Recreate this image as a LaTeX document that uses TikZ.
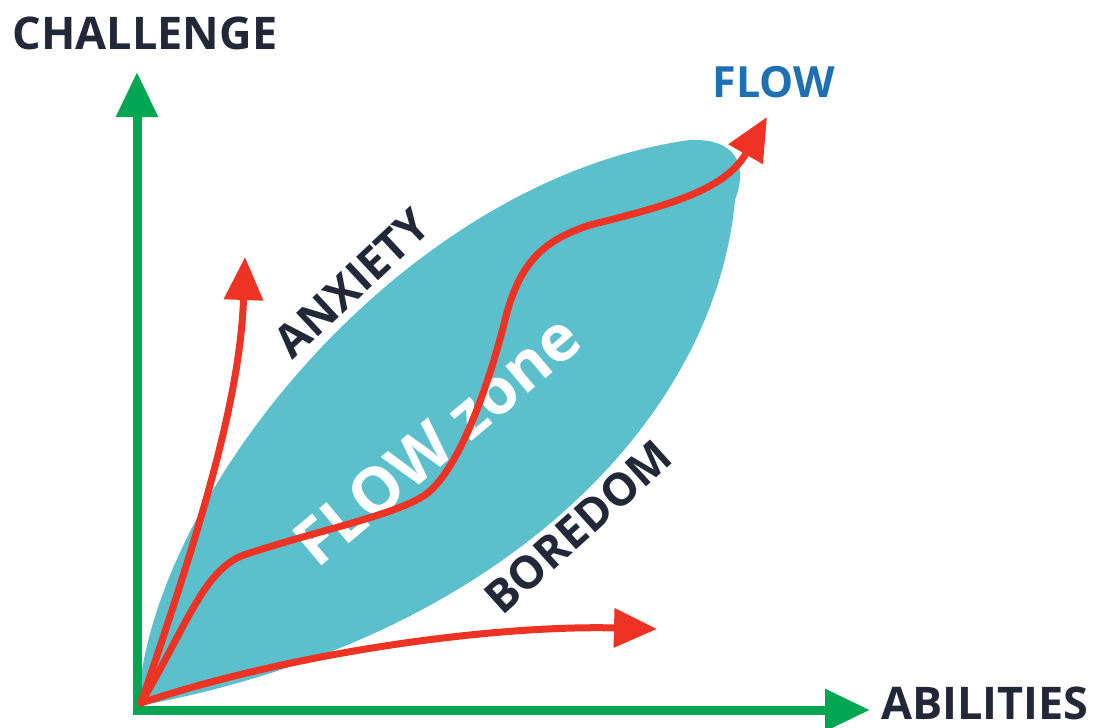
\documentclass[tikz,border=0pt]{standalone}
\usepackage{fontspec}
\setmainfont{Open Sans}
\usetikzlibrary{arrows.meta}
\definecolor{axisgreen}{RGB}{0,166,81}
\definecolor{zoneteal}{RGB}{91,191,204}
\definecolor{curvered}{RGB}{238,50,36}
\definecolor{labeldark}{RGB}{35,40,56}
\definecolor{flowblue}{RGB}{31,111,181}
\begin{document}
\begin{tikzpicture}[x=1pt,y=1pt,
  axis/.style={draw=axisgreen,line width=9pt,
    {Triangle[length=45pt,width=40pt]}-{Triangle[length=45pt,width=40pt]}},
  curve/.style={draw=curvered,line width=7pt,line cap=round,
    -{Triangle[length=43pt,width=38pt]}},
  lab/.style={font=\bfseries\fontsize{45}{50}\selectfont,text=labeldark,inner sep=0pt},
  zonelab/.style={font=\bfseries\fontsize{64}{70}\selectfont,text=white,inner sep=0pt}]
\useasboundingbox (0,0) rectangle (1093,-728);
% key points
\coordinate (O) at (141,-703);
\coordinate (ytip) at (137,-72);
\coordinate (xtip) at (870,-710);
\coordinate (anxTip) at (245,-257);
\coordinate (flowTip) at (767,-117);
\coordinate (borTip) at (657,-629);
% flow zone leaf
\fill[zoneteal] (138,-706) .. controls (148,-500) and (400,-180) .. (690,-140)
  .. controls (745,-138) and (745,-175) .. (735,-200)
  .. controls (715,-420) and (500,-640) .. (138,-706) -- cycle;
\node[zonelab,rotate=40] (zone) at (437,-440) {FLOW zone};
% axes
\draw[axis] (ytip) |- (xtip);
% red curves
\draw[curve] (O) .. controls (200,-530) and (240,-400) .. (anxTip);
\draw[curve] (O) .. controls (300,-650) and (500,-625) .. (borTip);
\draw[curve] (O) .. controls (190,-620) and (205,-565) .. (250,-553)
  .. controls (320,-530) and (395,-515) .. (425,-495)
  .. controls (460,-470) and (490,-380) .. (505,-320)
  .. controls (520,-260) and (545,-240) .. (590,-225)
  .. controls (670,-205) and (725,-190) .. (flowTip);
% labels
\node[lab,anchor=base] (challenge) at (145,-49) {CHALLENGE};
\node[lab,anchor=base] (abilities) at (985,-719) {ABILITIES};
\node[lab,anchor=base,text=flowblue,font=\bfseries\fontsize{43}{48}\selectfont] (flow) at (774,-97) {FLOW};
\node[lab,rotate=43] (anxiety) at (352,-283) {ANXIETY};
\node[lab,rotate=42] (boredom) at (578,-527) {BOREDOM};
\end{tikzpicture}
\end{document}
